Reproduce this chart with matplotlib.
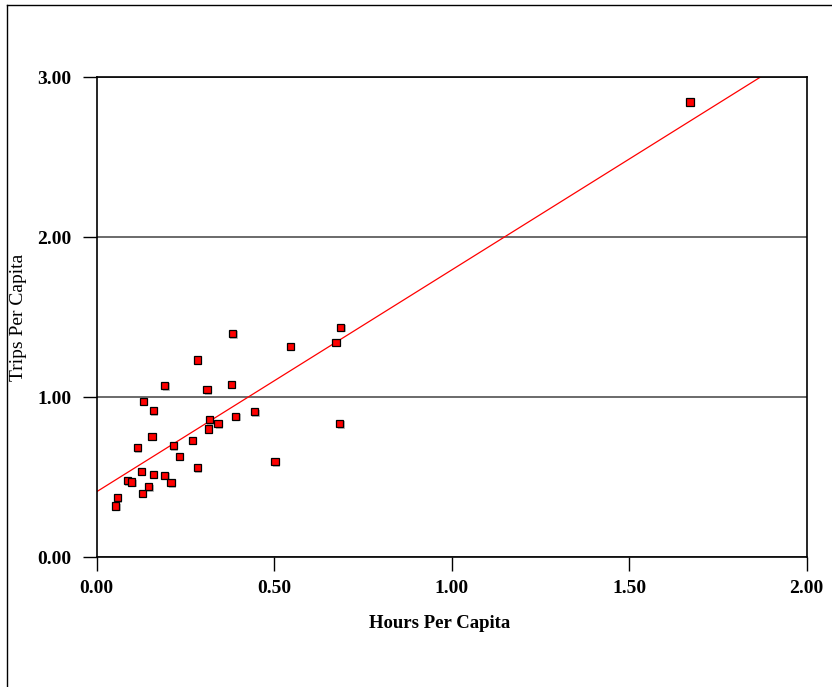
import matplotlib
matplotlib.use("Agg")
import matplotlib.pyplot as plt
import matplotlib.patheffects as pe
from matplotlib.lines import Line2D
import numpy as np

# ---- data ----
hours_per_capita = [1.671, 0.687, 0.383, 0.545, 0.674, 0.283, 0.192, 0.379, 0.311,
                    0.131, 0.159, 0.317, 0.392, 0.445, 0.342, 0.314, 0.685, 0.156,
                    0.269, 0.114, 0.216, 0.233, 0.502, 0.283, 0.126, 0.159, 0.192,
                    0.087, 0.099, 0.209, 0.147, 0.128, 0.058, 0.054]
trips_per_capita = [2.846, 1.4375, 1.398, 1.319, 1.344, 1.233, 1.0725, 1.081, 1.0475,
                    0.975, 0.916, 0.861, 0.881, 0.909, 0.835, 0.802, 0.835, 0.756,
                    0.731, 0.685, 0.6975, 0.631, 0.597, 0.559, 0.5375, 0.519, 0.5125,
                    0.479, 0.471, 0.466, 0.441, 0.400, 0.3725, 0.321]
fit_intercept = 0.41
fit_slope = 1.386
x_ticks = [0.0, 0.5, 1.0, 1.5, 2.0]
y_ticks = [0.0, 1.0, 2.0, 3.0]
x_label = "Hours Per Capita"
y_label = "Trips Per Capita"

W, H = 832, 687
fig = plt.figure(figsize=(W / 100, H / 100), dpi=100)
fig.patch.set_facecolor("white")

# outer frame (only left and top visible)
fig.add_artist(Line2D([6.5 / W, 6.5 / W], [0, 1 - 4.5 / H], color="black", lw=1.0,
                      transform=fig.transFigure))
fig.add_artist(Line2D([6.5 / W, 1], [1 - 4.5 / H, 1 - 4.5 / H], color="black", lw=1.0,
                      transform=fig.transFigure))

left, right = 96.7, 806.7
top, bottom = 77.3, 557.3
ax = fig.add_axes([left / W, 1 - bottom / H, (right - left) / W, (bottom - top) / H])

ax.set_xlim(0, 2)
ax.set_ylim(0, 3)

# gridlines
ax.set_yticks(y_ticks)
ax.yaxis.grid(True, color="#5f5f5f", lw=1.3, zorder=1)
ax.set_axisbelow(True)

# regression line
xs = np.array([0.0, 2.0])
ax.plot(xs, fit_intercept + fit_slope * xs, color="red", lw=0.9, zorder=2)

# points
ax.plot(hours_per_capita, trips_per_capita, linestyle="none", marker="s",
        markersize=5.2, markerfacecolor="#ff0000", markeredgecolor="black",
        markeredgewidth=0.9, zorder=3,
        path_effects=[pe.SimplePatchShadow(offset=(1.0, -1.0), shadow_rgbFace="#a0a0a0", alpha=0.7),
                      pe.Normal()])

for s in ax.spines.values():
    s.set_color("black")
    s.set_linewidth(1.2)
    s.set_zorder(4)

ax.set_xticks(x_ticks)
ax.set_xticklabels([f"{v:.2f}" for v in x_ticks])
ax.set_yticklabels([f"{v:.2f}" for v in y_ticks])
ax.tick_params(axis="both", direction="out", length=10, width=1.0, color="black")
ax.tick_params(axis="y", pad=8)
ax.tick_params(axis="x", pad=6)
for lab in ax.get_xticklabels() + ax.get_yticklabels():
    lab.set_fontfamily("Liberation Serif")
    lab.set_fontweight("bold")
    lab.set_fontsize(14)

fig.text(440 / W, 1 - 624 / H, x_label, ha="center", va="center",
         fontfamily="Liberation Serif", fontweight="bold", fontsize=13.5)
fig.text(19 / W, 1 - 317 / H, y_label, ha="center", va="center", rotation=90,
         fontfamily="Liberation Serif", fontsize=14)

fig.savefig("out.png", dpi=100)
